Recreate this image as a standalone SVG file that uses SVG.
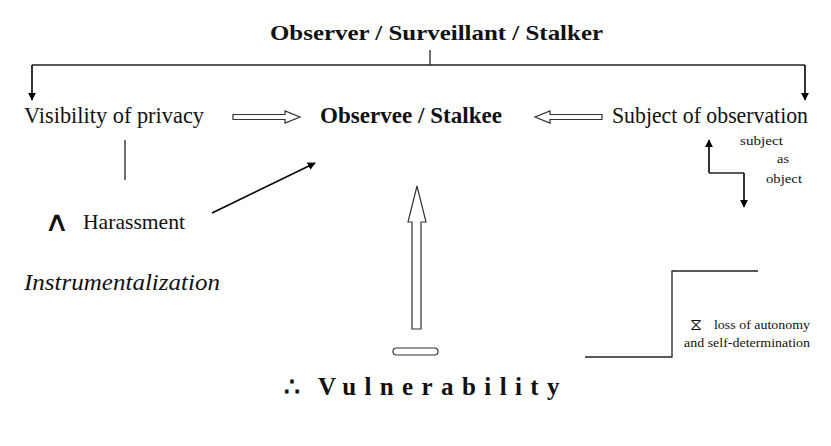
<svg xmlns="http://www.w3.org/2000/svg" width="831" height="446" viewBox="0 0 831 446">
  <defs>
    <marker id="ah" viewBox="0 0 10 10" refX="9" refY="5" markerWidth="8" markerHeight="8" markerUnits="userSpaceOnUse" orient="auto">
      <path d="M0,0 L10,5 L0,10 z" fill="#000"/>
    </marker>
  </defs>
  <style>
    text { font-family: "Liberation Serif", "Times New Roman", serif; fill: #111; }
    .b { font-weight: bold; }
    .m { font-size: 23px; }
    .s { font-size: 13px; }
    .sym { font-family: "DejaVu Sans", sans-serif; }
    .ln { stroke: #222; stroke-width: 1.3; fill: none; }
    .hollow { fill: #fff; stroke: #333; stroke-width: 1.2; }
    .arr { stroke: #000; stroke-width: 1.6; fill: none; marker-end: url(#ah); }
  </style>
  <rect width="831" height="446" fill="#fff"/>

  <g id="observer">
    <text class="b" x="270" y="40" font-size="22" textLength="333" lengthAdjust="spacingAndGlyphs">Observer / Surveillant / Stalker</text>
  </g>
  <g id="visibility">
    <text class="m" x="24" y="123" textLength="180" lengthAdjust="spacingAndGlyphs">Visibility of privacy</text>
  </g>
  <g id="observee">
    <text class="m b" x="320" y="123" textLength="182" lengthAdjust="spacingAndGlyphs">Observee / Stalkee</text>
  </g>
  <g id="subject">
    <text class="m" x="612" y="123" textLength="196" lengthAdjust="spacingAndGlyphs">Subject of observation</text>
  </g>
  <g id="subject-as-object">
    <text class="s" x="740" y="145" textLength="43" lengthAdjust="spacingAndGlyphs">subject</text>
    <text class="s" x="777" y="163" textLength="12" lengthAdjust="spacingAndGlyphs">as</text>
    <text class="s" x="766" y="183" textLength="36" lengthAdjust="spacingAndGlyphs">object</text>
  </g>
  <g id="harassment">
    <text class="sym" transform="translate(44,231) scale(1.25,1)" font-size="28">∧</text>
    <text x="83" y="229" font-size="21" textLength="102" lengthAdjust="spacingAndGlyphs">Harassment</text>
  </g>
  <g id="instrumentalization">
    <text x="24" y="290" font-size="24" font-style="italic" textLength="196" lengthAdjust="spacingAndGlyphs">Instrumentalization</text>
  </g>
  <g id="autonomy">
    <text class="sym" x="690" y="330" font-size="17">⧖</text>
    <text class="s" x="714" y="329" textLength="96" lengthAdjust="spacingAndGlyphs">loss of autonomy</text>
    <text class="s" x="684" y="347" textLength="126" lengthAdjust="spacingAndGlyphs">and self-determination</text>
  </g>
  <g id="vulnerability">
    <text class="b" x="284" y="395" font-size="25">∴</text>
    <text class="b" x="318" y="395" font-size="25" letter-spacing="8.4">Vulnerability</text>
  </g>

  <g id="connectors">
    <!-- observer branches -->
    <path class="ln" d="M430,50 V65"/>
    <path class="ln" d="M32,65 H805"/>
    <path class="arr" d="M32,65 V100"/>
    <path class="arr" d="M805,65 V100"/>
    <!-- hollow block arrows into the observee -->
    <polygon class="hollow" points="233,114.5 285,114.5 285,111 300,117 285,123 285,119.5 233,119.5"/>
    <polygon class="hollow" points="602,114.5 550,114.5 550,111 535,117 550,123 550,119.5 602,119.5"/>
    <!-- stub under visibility -->
    <path class="ln" d="M125,140 V180"/>
    <!-- harassment to observee -->
    <path class="arr" d="M212,213 L315,163"/>
    <!-- subject as object step arrows -->
    <path class="arr" d="M709,173 V140"/>
    <path class="ln" d="M709,173 H744"/>
    <path class="arr" d="M744,173 V207"/>
    <!-- vulnerability rising to observee -->
    <polygon class="hollow" points="412,329 412,222 408,222 417,186 426,222 421,222 421,329"/>
    <rect class="hollow" x="393" y="348" width="45" height="7" rx="3.5"/>
    <!-- autonomy step -->
    <path class="ln" d="M585,357 H672 V271 H758"/>
  </g>
</svg>
